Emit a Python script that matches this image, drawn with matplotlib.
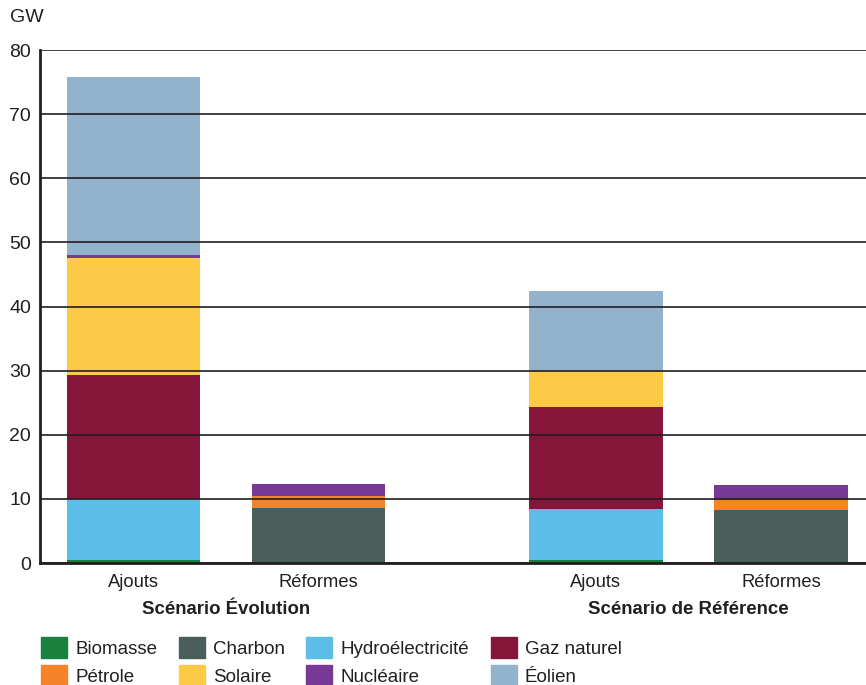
"""
Ajouts et réformes de capacité, scénarios Évolution et Référence
"""
import matplotlib
matplotlib.use('Agg')
import matplotlib.pyplot as plt
from matplotlib.patches import Patch
import matplotlib.transforms as mtrans
import numpy as np

plt.rcParams['font.family'] = ['Liberation Sans', 'DejaVu Sans']

# données (GW)
categories = ['Ajouts', 'Réformes', 'Ajouts', 'Réformes']
scenarios = ['Scénario Évolution', 'Scénario de Référence']
biomasse = [0.5, 0, 0.5, 0]
charbon = [0, 8.6, 0, 8.2]
hydro = [9.5, 0, 8.0, 0]
gaz = [19.4, 0, 15.8, 0]
petrole = [0, 1.9, 0, 1.7]
solaire = [18.1, 0, 5.6, 0]
nucleaire = [0.5, 1.9, 0, 2.2]
eolien = [27.8, 0, 12.5, 0]

series = [('Biomasse', biomasse, '#1b7f3e'),
          ('Charbon', charbon, '#4a5f5c'),
          ('Hydroélectricité', hydro, '#5cbde8'),
          ('Gaz naturel', gaz, '#86153a'),
          ('Pétrole', petrole, '#f5832a'),
          ('Solaire', solaire, '#fdca48'),
          ('Nucléaire', nucleaire, '#763a96'),
          ('Éolien', eolien, '#93b3cd')]

x = np.array([0, 1, 2.5, 3.5])

fig = plt.figure(figsize=(8.66, 6.85), dpi=100)
ax = fig.add_axes([0.0462, 0.178, 0.9538, 0.749])

bottom = np.zeros(4)
for name, vals, col in series:
    ax.bar(x, vals, 0.72, bottom=bottom, color=col, label=name, zorder=2)
    bottom += np.array(vals)

ax.set_xlim(-0.505, 3.96)
ax.set_ylim(0, 80)
ax.set_yticks(range(0, 81, 10))
ax.tick_params(axis='y', length=0, labelsize=14, pad=6.5, colors='#231f20')
ax.set_xticks(x)
ax.set_xticklabels(categories)
ax.tick_params(axis='x', length=0, labelsize=13.2, pad=8, colors='#231f20')
ax.grid(axis='y', color='#231f20', lw=1.2, zorder=3)
ax.set_axisbelow(False)
for s in ['top', 'right']:
    ax.spines[s].set_visible(False)
for s in ['left', 'bottom']:
    ax.spines[s].set_linewidth(2)
    ax.spines[s].set_color('#231f20')
    ax.spines[s].set_zorder(4)

trans = mtrans.blended_transform_factory(ax.transData, fig.transFigure)
ax.text((x[0] + x[1]) / 2, 1 - 610 / 685, scenarios[0], transform=trans,
        ha='center', va='center', fontsize=13.4, fontweight='bold', color='#231f20')
ax.text((x[2] + x[3]) / 2, 1 - 610 / 685, scenarios[1], transform=trans,
        ha='center', va='center', fontsize=13.4, fontweight='bold', color='#231f20')

fig.text(10 / 866, 1 - 18 / 685, 'GW', fontsize=14, va='center', color='#231f20')

# légende (ordre par ligne)
order = [0, 4, 1, 5, 2, 6, 3, 7]
handles = [Patch(color=series[i][2], label=series[i][0]) for i in order]
leg = fig.legend(handles=handles, ncol=4, loc='upper left',
                 bbox_to_anchor=(41 / 866, 1 - 637 / 685), frameon=False,
                 borderpad=0, borderaxespad=0,
                 fontsize=13.5, handlelength=1.39, handleheight=1.35,
                 handletextpad=0.43, columnspacing=1.15, labelspacing=0.38)
for t in leg.get_texts():
    t.set_color('#231f20')

plt.savefig('out.png', dpi=100)
